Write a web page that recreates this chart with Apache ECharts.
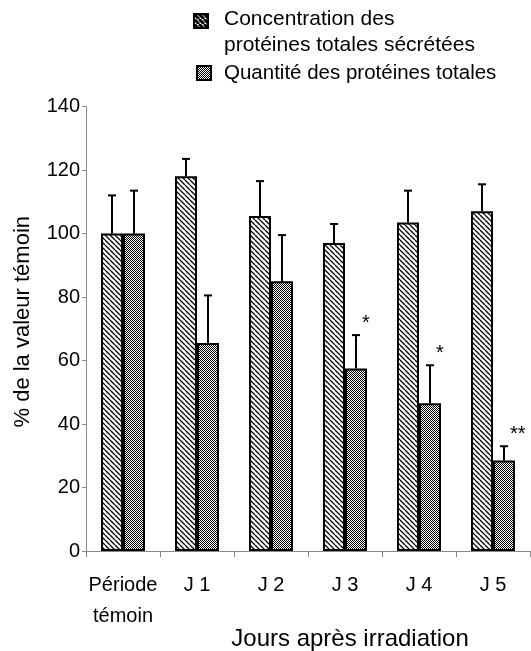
<!DOCTYPE html>
<html>
<head>
<meta charset="utf-8">
<script src="https://cdn.jsdelivr.net/npm/echarts@6/dist/echarts.min.js"></script>
<style>html,body{margin:0;padding:0;background:#fff}#c{width:531px;height:651px}</style>
</head>
<body>
<div id="c"></div>
<script>
// ---- data ----
const categories = ['Période\ntémoin', 'J 1', 'J 2', 'J 3', 'J 4', 'J 5'];
const seriesNames = ['Concentration des\nprotéines totales sécrétées', 'Quantité des protéines totales'];
const concentration = [100, 118, 105.5, 97, 103.5, 107];
const concentrationSD = [12, 5.5, 11, 6, 10, 8.5];
const quantite = [100, 65.5, 85, 57.5, 46.5, 28.5];
const quantiteSD = [13.5, 15, 14.5, 10.5, 12, 4.5];
const significance = ['', '', '', '*', '*', '**'];
const yTicks = [0, 20, 40, 60, 80, 100, 120, 140];

// ---- patterns ----
function hatch(lw) {
  const c = document.createElement('canvas'); c.width = c.height = 5;
  const g = c.getContext('2d');
  g.fillStyle = '#fff'; g.fillRect(0, 0, 5, 5);
  g.strokeStyle = '#000'; g.lineWidth = lw; g.beginPath();
  [-5, 0, 5].forEach(x0 => { g.moveTo(x0, 0); g.lineTo(x0 + 5, 5); });
  g.stroke();
  return { image: c, repeat: 'repeat' };
}
function dots() {
  const c = document.createElement('canvas'); c.width = c.height = 2;
  const g = c.getContext('2d');
  g.fillStyle = '#fff'; g.fillRect(0, 0, 2, 2);
  g.fillStyle = '#000'; g.fillRect(0, 0, 1, 1); g.fillRect(1, 1, 1, 1);
  return { image: c, repeat: 'repeat' };
}
const FONT = "'Liberation Sans', Arial, Helvetica, sans-serif";
const BW = 22;

function errorSeries(vals, sds, offset, marks) {
  return {
    type: 'custom', z: 5, silent: true,
    encode: { x: 0, y: [1, 2] },
    data: vals.map((v, i) => [i, v, v + sds[i]]),
    renderItem: function (params, api) {
      const i = api.value(0);
      const p0 = api.coord([i, api.value(1)]);
      const p1 = api.coord([i, api.value(2)]);
      const x = p0[0] + offset;
      const st = { stroke: '#000', lineWidth: 2 };
      const ch = [
        { type: 'line', shape: { x1: x, y1: p0[1], x2: x, y2: p1[1] }, style: st },
        { type: 'line', shape: { x1: x - 4, y1: p1[1], x2: x + 4, y2: p1[1] }, style: st }
      ];
      if (marks && marks[i]) {
        ch.push({ type: 'text', x: x + 6, y: p1[1] - 12,
          style: { text: marks[i], fill: '#000', font: '20px ' + FONT, align: 'left', verticalAlign: 'middle' } });
      }
      return { type: 'group', children: ch };
    }
  };
}

const chart = echarts.init(document.getElementById('c'), null, { renderer: 'canvas' });
chart.setOption({
  animation: false,
  backgroundColor: '#fff',
  grid: { left: 86, right: 1, top: 106.5, bottom: 100, containLabel: false, outerBoundsMode: 'none' },
  legend: [
    {
      data: [{ name: seriesNames[0], icon: 'rect', itemStyle: { color: hatch(3), borderColor: '#000', borderWidth: 2 } }],
      left: 193, top: -6, padding: 0, itemWidth: 14, itemHeight: 14, selectedMode: false,
      formatter: function (name) {
        return '{s| }\n' + name.split('\n').map(t => '{a|' + t + '}').join('\n');
      },
      textStyle: { fontFamily: FONT, fontSize: 21, color: '#000', padding: [0, 0, 0, 11],
        rich: { s: { fontSize: 2, lineHeight: 22 }, a: { fontFamily: FONT, fontSize: 21, lineHeight: 26, color: '#000' } } }
    },
    {
      data: [{ name: seriesNames[1], icon: 'rect', itemStyle: { color: dots(), borderColor: '#000', borderWidth: 2 } }],
      left: 196, top: 61, padding: 0, itemWidth: 14, itemHeight: 14, selectedMode: false,
      textStyle: { fontFamily: FONT, fontSize: 20.5, color: '#000', lineHeight: 24, padding: [0, 0, 0, 8] }
    }
  ],
  xAxis: {
    type: 'category', data: categories,
    name: 'Jours après irradiation', nameLocation: 'middle', nameGap: 76, nameMoveOverlap: false,
    nameTextStyle: { fontFamily: FONT, fontSize: 24, color: '#000', padding: [0, 0, 0, 84] },
    axisLine: { lineStyle: { color: '#888', width: 1 } },
    axisTick: { show: true, length: 6, lineStyle: { color: '#888' } },
    axisLabel: { interval: 0, margin: 19, fontFamily: FONT, fontSize: 20, color: '#000', lineHeight: 31, verticalAlign: 'top' }
  },
  yAxis: {
    type: 'value', min: yTicks[0], max: yTicks[yTicks.length - 1], interval: 20,
    name: '% de la valeur témoin', nameLocation: 'middle', nameGap: 52, nameRotate: 90, nameMoveOverlap: false,
    nameTextStyle: { fontFamily: FONT, fontSize: 22, color: '#000', padding: [0, 0, 0, 14] },
    axisLine: { show: true, lineStyle: { color: '#888', width: 1 } },
    axisTick: { show: true, length: 4, lineStyle: { color: '#888' } },
    splitLine: { show: false },
    axisLabel: { margin: 6, fontFamily: FONT, fontSize: 20, color: '#000' }
  },
  series: [
    { name: seriesNames[0], type: 'bar', data: concentration, barWidth: BW, barGap: '0%',
      itemStyle: { color: hatch(1.3), borderColor: '#000', borderWidth: 2 } },
    { name: seriesNames[1], type: 'bar', data: quantite, barWidth: BW, barGap: '0%',
      itemStyle: { color: dots(), borderColor: '#000', borderWidth: 2 } },
    errorSeries(concentration, concentrationSD, -BW / 2, null),
    errorSeries(quantite, quantiteSD, BW / 2, significance)
  ]
});
</script>
</body>
</html>
